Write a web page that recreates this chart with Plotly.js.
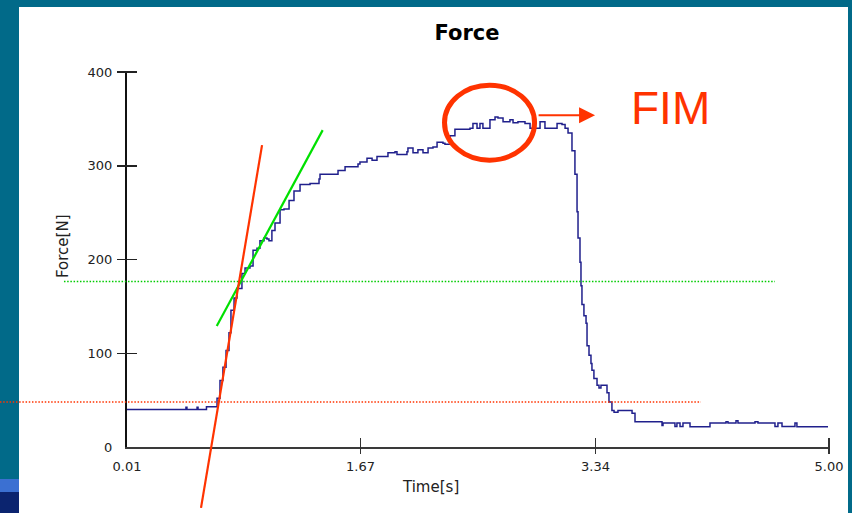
<!DOCTYPE html>
<html>
<head>
<meta charset="utf-8">
<script src="https://cdn.plot.ly/plotly-3.0.1.min.js"></script>
<style>
  html, body { margin: 0; padding: 0; background: #016A89; }
  #chart { width: 852px; height: 513px; }
</style>
</head>
<body>
<div id="chart"></div>
<script>
// ---- Data ----
const timeS = [
  0.01, 0.425, 0.429, 0.436, 0.504, 0.508, 0.515, 0.572, 0.575, 0.628,
  0.650, 0.671, 0.692, 0.714, 0.735, 0.749, 0.771, 0.792, 0.827, 0.849,
  0.884, 0.906, 0.934, 0.955, 0.984, 1.005, 1.019, 1.040, 1.062, 1.098,
  1.126, 1.162, 1.197, 1.240, 1.311, 1.375, 1.382, 1.503, 1.510, 1.560,
  1.652, 1.666, 1.716, 1.752, 1.787, 1.865, 1.915, 1.929, 2.000, 2.007,
  2.043, 2.078, 2.114, 2.150, 2.185, 2.214, 2.256, 2.270, 2.306, 2.341,
  2.448, 2.469, 2.498, 2.519, 2.540, 2.590, 2.626, 2.647, 2.683, 2.732,
  2.754, 2.789, 2.839, 2.875, 2.946, 2.981, 3.017, 3.067, 3.102, 3.124,
  3.145, 3.173, 3.194, 3.209, 3.216, 3.230, 3.237, 3.244, 3.258, 3.273,
  3.280, 3.294, 3.308, 3.315, 3.329, 3.351, 3.365, 3.379, 3.408, 3.422,
  3.436, 3.457, 3.472, 3.500, 3.571, 3.600, 3.621, 3.763, 3.813, 3.820,
  3.884, 3.905, 3.919, 3.941, 3.962, 3.998, 4.012, 4.140, 4.154, 4.254,
  4.268, 4.282, 4.318, 4.339, 4.353, 4.460, 4.474, 4.495, 4.595, 4.616,
  4.637, 4.666, 4.744, 4.758, 4.772, 4.993
];
const forceN = [
  40, 40, 42.5, 40, 40, 42.5, 40, 40, 43, 43,
  52, 71, 85, 103, 122, 146, 159, 169, 185, 191,
  193, 210, 212, 220, 223, 222, 220, 231, 239, 253,
  254, 263, 273, 280, 281, 286, 291, 291, 295, 299,
  302, 304, 308, 306, 310, 314, 315, 312, 315, 319,
  314, 317, 314, 319, 320, 325, 324, 323, 332, 339,
  340, 345, 340, 345, 340, 349, 352, 351, 347, 349,
  346, 347, 345, 340, 347, 340, 340, 345, 344, 340,
  335, 316, 291, 251, 223, 197, 172, 152, 140, 132,
  108, 98, 89, 82, 73, 66, 63, 66, 66, 58,
  48, 39, 37, 39, 39, 36, 27, 27, 23, 25.5,
  25.5, 22, 25.5, 22, 25.5, 25.5, 21.5, 21.5, 25.5, 25.5,
  27, 25.5, 25.5, 28, 25.5, 25.5, 27, 25.5, 25.5, 22,
  25.5, 22, 22, 25.5, 21.5, 21.5
];

// Axis ticks
const xTickVals = [0.01, 1.67, 3.34, 5.00];
const xTickText = ['0.01', '1.67', '3.34', '5.00'];
const yTickVals = [0, 100, 200, 300, 400];
const yTickText = ['0', '100', '200', '300', '400'];

// Tangent lines (time s, force N endpoints)
const redTangentT = [0.536, 0.970];
const redTangentF = [-65, 322];
const greenTangentT = [0.648, 1.401];
const greenTangentF = [129, 338];

// Horizontal dotted reference levels (force N) and their time extents
const greenLevelF = 176.6;
const greenLevelT = [-0.438, 4.616];
const redLevelF = 48;
const redLevelT = [-0.893, 4.090];

// FIM marker (ellipse bounds in time / force)
const fimT = [2.267, 2.907];
const fimF = [306, 386];
const fimArrowT = [2.925, 3.337];
const fimArrowF = 354;
const fimLabelT = 3.87;
const fimLabelF = 362;

// ---- Plot ----
const xRange = [0.01, 5.00];
const yRange = [0, 400];
const px = t => (t - xRange[0]) / (xRange[1] - xRange[0]);
const py = f => (f - yRange[0]) / (yRange[1] - yRange[0]);

const ORANGE = '#FF3300';
const GREEN = '#00E000';
const TXT = '#222222';

const traces = [
  {
    x: timeS, y: forceN, type: 'scatter', mode: 'lines',
    line: { color: '#20208C', width: 1.5, shape: 'hv' },
    hoverinfo: 'skip', showlegend: false
  },
  { x: [], y: [], xaxis: 'x2', yaxis: 'y2', type: 'scatter', mode: 'lines',
    hoverinfo: 'skip', showlegend: false }
];

const shapes = [
  // white slide panel
  { type: 'rect', xref: 'paper', yref: 'paper', layer: 'below',
    x0: -108/702, x1: 721/702, y0: -66/375, y1: 440/375,
    fillcolor: '#FFFFFF', line: { width: 0 } },
  // bottom-left slide decoration bands
  { type: 'rect', xref: 'paper', yref: 'paper', layer: 'below',
    x0: -127/702, x1: -108/702, y0: -45/375, y1: -32/375,
    fillcolor: '#3B70D2', line: { width: 0 } },
  { type: 'rect', xref: 'paper', yref: 'paper', layer: 'below',
    x0: -127/702, x1: -108/702, y0: -66/375, y1: -45/375,
    fillcolor: '#0B246F', line: { width: 0 } },
  // dotted levels
  { type: 'line', xref: 'paper', yref: 'paper',
    x0: px(greenLevelT[0]), x1: px(greenLevelT[1]), y0: py(greenLevelF), y1: py(greenLevelF),
    line: { color: '#00CC00', width: 1.5, dash: '1.5px,1.7px' } },
  { type: 'line', xref: 'paper', yref: 'paper',
    x0: px(redLevelT[0]), x1: px(redLevelT[1]), y0: py(redLevelF), y1: py(redLevelF),
    line: { color: ORANGE, width: 1.5, dash: '1.5px,1.7px' } },
  // tangents
  { type: 'line', xref: 'paper', yref: 'paper',
    x0: px(greenTangentT[0]), x1: px(greenTangentT[1]), y0: py(greenTangentF[0]), y1: py(greenTangentF[1]),
    line: { color: GREEN, width: 2.2 } },
  { type: 'line', xref: 'paper', yref: 'paper',
    x0: px(redTangentT[0]), x1: px(redTangentT[1]), y0: py(redTangentF[0]), y1: py(redTangentF[1]),
    line: { color: ORANGE, width: 2.2 } },
  // FIM ellipse
  { type: 'circle', xref: 'x', yref: 'y',
    x0: fimT[0], x1: fimT[1], y0: fimF[0], y1: fimF[1],
    line: { color: ORANGE, width: 5 } }
];

const annotations = [
  { xref: 'paper', yref: 'paper', x: -75/702, y: 201/375, text: 'Force[N]', textangle: -90,
    showarrow: false, font: { family: 'DejaVu Sans', size: 15, color: TXT } },
  { xref: 'paper', yref: 'paper', x: 303/702, y: -51/375, text: 'Time[s]',
    showarrow: false, font: { family: 'DejaVu Sans', size: 15, color: TXT } },
  { xref: 'x', yref: 'y', x: fimArrowT[1], y: fimArrowF, axref: 'x', ayref: 'y',
    ax: fimArrowT[0], ay: fimArrowF, text: '', showarrow: true,
    arrowhead: 2, arrowsize: 1.6, arrowwidth: 2, arrowcolor: ORANGE, standoff: 0, startstandoff: 0 },
  { xref: 'x', yref: 'y', x: fimLabelT, y: fimLabelF, text: 'FIM', showarrow: false,
    xanchor: 'center', yanchor: 'middle',
    font: { family: 'Liberation Sans, Arial', size: 46, color: ORANGE } }
];

const layout = {
  width: 852, height: 513,
  paper_bgcolor: '#016A89', plot_bgcolor: '#FFFFFF',
  margin: { l: 127, r: 23, t: 72, b: 66, pad: 0 },
  showlegend: false,
  title: {
    text: 'Force', x: 467/852, y: 1 - 33/513, xref: 'container', yref: 'container',
    xanchor: 'center', yanchor: 'middle',
    font: { family: 'DejaVu Sans', size: 21, weight: 700, color: '#000' }
  },
  xaxis: {
    range: xRange, tickmode: 'array', tickvals: xTickVals, ticktext: xTickText,
    showline: true, linecolor: '#3a3a3a', linewidth: 2,
    ticks: 'outside', ticklen: 6, tickcolor: 'rgba(0,0,0,0)',
    showgrid: false, zeroline: false, fixedrange: true,
    tickfont: { family: 'DejaVu Sans', size: 13, color: TXT }
  },
  yaxis: {
    range: yRange, tickmode: 'array', tickvals: yTickVals, ticktext: yTickText,
    showline: true, linecolor: '#111', linewidth: 2,
    ticks: 'outside', ticklen: 10, tickcolor: 'rgba(0,0,0,0)',
    showgrid: false, zeroline: false, fixedrange: true,
    tickfont: { family: 'DejaVu Sans', size: 13, color: TXT }
  },
  xaxis2: {
    overlaying: 'x', anchor: 'free', position: 10/375, side: 'bottom',
    range: xRange, tickmode: 'array', tickvals: xTickVals.slice(1),
    ticks: 'outside', ticklen: 16, tickwidth: 1.5, tickcolor: '#333',
    showticklabels: false, showline: false, showgrid: false, zeroline: false, fixedrange: true
  },
  yaxis2: {
    overlaying: 'y', anchor: 'free', position: 10/702, side: 'left',
    range: yRange, tickmode: 'array', tickvals: yTickVals.slice(1),
    ticks: 'outside', ticklen: 20, tickwidth: 1.5, tickcolor: '#222',
    showticklabels: false, showline: false, showgrid: false, zeroline: false, fixedrange: true
  },
  shapes: shapes,
  annotations: annotations
};

Plotly.newPlot('chart', traces, layout, { displayModeBar: false, staticPlot: true });
</script>
</body>
</html>
